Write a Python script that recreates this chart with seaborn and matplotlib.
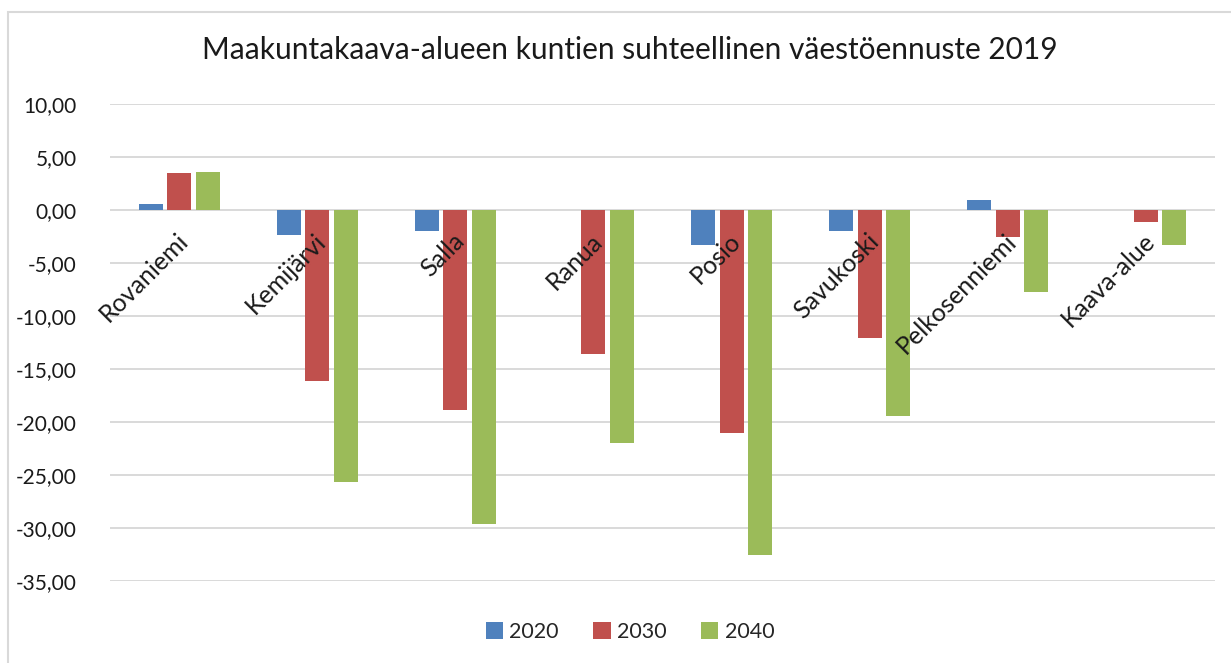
import matplotlib
matplotlib.use("Agg")
import matplotlib.pyplot as plt
import matplotlib.transforms as mtransforms
from matplotlib.patches import Rectangle
import pandas as pd
import seaborn as sns

kunnat = ['Rovaniemi', 'Kemijärvi', 'Salla', 'Ranua', 'Posio', 'Savukoski',
          'Pelkosenniemi', 'Kaava-alue']
vuodet = ['2020', '2030', '2040']
v2020 = [0.6, -2.4, -2.0, 0.0, -3.3, -2.0, 0.9, 0.0]
v2030 = [3.5, -16.1, -18.9, -13.6, -21.0, -12.1, -2.5, -1.1]
v2040 = [3.6, -25.7, -29.6, -22.0, -32.5, -19.4, -7.7, -3.3]
yticks = [10, 5, 0, -5, -10, -15, -20, -25, -30, -35]

df = pd.DataFrame({'Kunta': kunnat * 3,
                   'Vuosi': [v for v in vuodet for _ in kunnat],
                   'Arvo': v2020 + v2030 + v2040})

sns.set_style('white')
plt.rcParams['font.family'] = ['Lato', 'DejaVu Sans']

fig = plt.figure(figsize=(12.31, 6.63), dpi=100)
ax = fig.add_axes([110 / 1231, 1 - 581 / 663, (1215 - 110) / 1231, (581 - 104) / 663])

sns.barplot(data=df, x='Kunta', y='Arvo', hue='Vuosi', ax=ax,
            palette=['#4F81BD', '#C0504D', '#9BBB59'], saturation=1,
            width=0.62, gap=0.16, edgecolor='none', linewidth=0, zorder=3)

ax.set_ylim(-35, 10)
ax.set_xlim(-0.5, len(kunnat) - 0.5)
ax.set_yticks(yticks)
ax.set_yticklabels([f'{t:.2f}'.replace('.', ',') for t in yticks], fontsize=15, color='#1a1a1a')
ax.tick_params(axis='y', length=0, pad=24)
ax.set_xticks([])
ax.grid(axis='y', color='#D9D9D9', linewidth=1.4, zorder=0)
ax.set_axisbelow(True)
for s in ax.spines.values():
    s.set_visible(False)
ax.set_xlabel('')
ax.set_ylabel('')

# category labels rotated next to zero line
off = mtransforms.offset_copy(ax.transData, fig=fig, x=-3, y=-19, units='dots')
for i, k in enumerate(kunnat):
    ax.text(i, 0, k, transform=off, rotation=45, rotation_mode='anchor',
            ha='right', va='top', fontsize=18, color='#1a1a1a')

fig.text(0.512, 1 - 50 / 663, 'Maakuntakaava-alueen kuntien suhteellinen väestöennuste 2019',
         ha='center', va='center', fontsize=21.5, color='#1a1a1a')

leg = ax.legend(loc='center', bbox_to_anchor=(630 / 1231, 1 - 632 / 663),
                bbox_transform=fig.transFigure, ncol=3, frameon=False,
                fontsize=15.5, handlelength=0.8, handleheight=0.8,
                handletextpad=0.3, columnspacing=1.6)

fig.patches.append(Rectangle((8 / 1231, -0.1), 1.2, 1.1 - 12 / 663,
                             transform=fig.transFigure, fill=False,
                             edgecolor='#D9D9D9', linewidth=1.5))

fig.savefig('out.png', dpi=100, facecolor='white')
